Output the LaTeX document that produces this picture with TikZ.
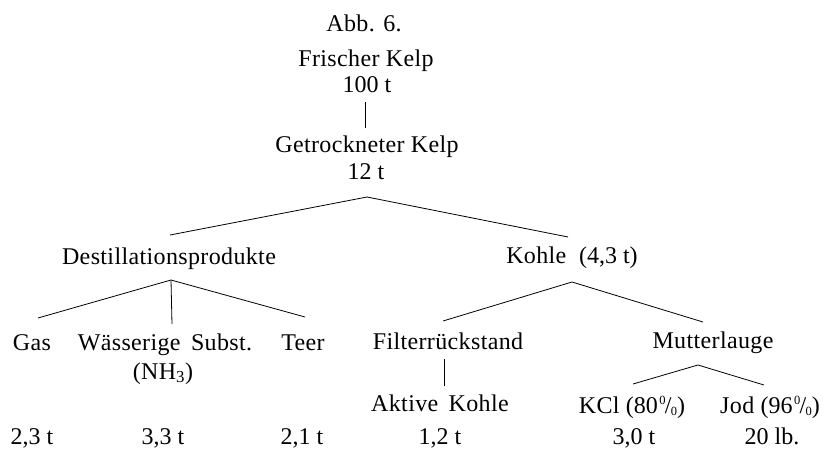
\documentclass[tikz,border=0pt]{standalone}
\usepackage{fontspec}
\setmainfont{Liberation Serif}[LetterSpace=1.5]
\newfontfamily\numfont{Liberation Serif}
\newcommand\oldpct{\kern0.06em\raisebox{0.36em}{\fontsize{12.5}{12.5}\selectfont 0}\kern-0.03em/\kern-0.03em\raisebox{-0.12em}{\fontsize{12.5}{12.5}\selectfont 0}}
\begin{document}
\begin{tikzpicture}[x=1pt,y=-1pt,
  lbl/.style={anchor=base,inner sep=0pt,font=\fontsize{24}{28}\selectfont},
  amt/.style={anchor=base,inner sep=0pt,font=\numfont\fontsize{24}{28}\selectfont},
  conn/.style={line width=0.8pt,black}]
\useasboundingbox (0,0) rectangle (828,450);
% texts
\node[lbl] (abb) at (364,31) {Abb. 6.};
\node[lbl] (fk) at (366,66) {Frischer Kelp};
\node[amt] (fkt) at (367,92) {100 t};
\node[lbl] (gk) at (367,152) {Getrockneter Kelp};
\node[amt] (gkt) at (366,179) {12 t};
\node[lbl] (dest) at (169,264) {Destillationsprodukte};
\node[lbl] (kohle) at (572,263) {Kohle\ \ {\numfont(4,3 t)}};
\node[lbl] (gas) at (32,350) {Gas};
\node[lbl] (wass) at (165,350) {Wässerige\ \,Subst.};
\node[lbl] (nh3) at (163,379) {(NH\textsubscript{3})};
\node[lbl] (teer) at (303,350) {Teer};
\node[lbl] (filt) at (448,349) {Filterrückstand};
\node[lbl] (mutt) at (713,348) {Mutterlauge};
\node[lbl] (akt) at (440,411) {Aktive\ \,Kohle};
\node[lbl] (kcl) at (632,413) {KCl {\numfont(80\oldpct)}};
\node[lbl] (jod) at (770,413) {Jod {\numfont(96\oldpct)}};
\node[amt] (m1) at (32,444) {2,3 t};
\node[amt] (m2) at (163,444) {3,3 t};
\node[amt] (m3) at (302,444) {2,1 t};
\node[amt] (m4) at (440,444) {1,2 t};
\node[amt] (m5) at (634,444) {3,0 t};
\node[amt] (m6) at (772,444) {20 lb.};
% connector points
\coordinate (v1a) at (365,102);
\coordinate (v1b) at (365,128);
\coordinate (a1) at (367,197);
\coordinate (a1l) at (170,235);
\coordinate (a1r) at (568,237);
\coordinate (a2) at (171,280);
\coordinate (a2l) at (38,318);
\coordinate (a2m) at (172,324);
\coordinate (a2r) at (305,317);
\coordinate (a3) at (572,282);
\coordinate (a3l) at (443,321);
\coordinate (a3r) at (703,322);
\coordinate (v2a) at (444,359);
\coordinate (v2b) at (444,386);
\coordinate (a4) at (698,365);
\coordinate (a4l) at (633,384);
\coordinate (a4r) at (764,385);
% connectors
\draw[conn] (v1a) -- (v1b);
\draw[conn] (a1l) -- (a1) -- (a1r);
\draw[conn] (a2l) -- (a2) -- (a2r);
\draw[conn] (a2) -- (a2m);
\draw[conn] (a3l) -- (a3) -- (a3r);
\draw[conn] (v2a) -- (v2b);
\draw[conn] (a4l) -- (a4) -- (a4r);
\end{tikzpicture}
\end{document}
